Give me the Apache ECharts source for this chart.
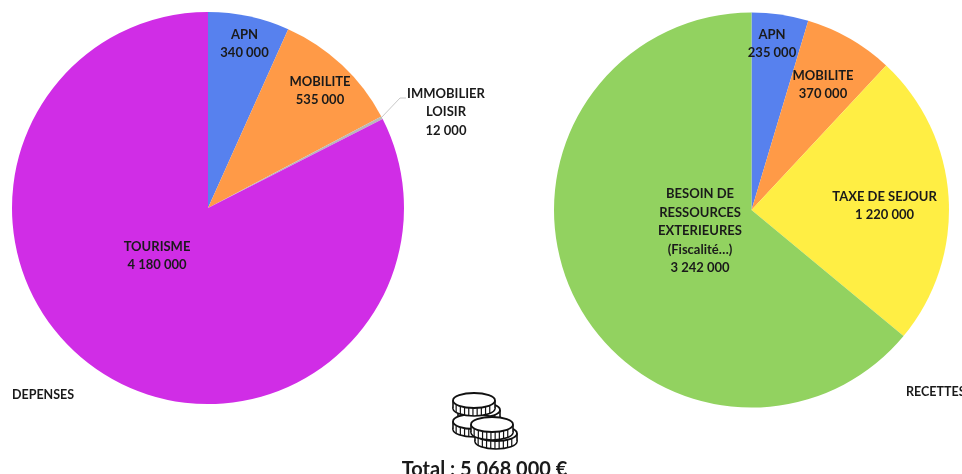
<!DOCTYPE html>
<html>
<head>
<meta charset="utf-8">
<style>html,body{margin:0;padding:0;background:#fff}#chart{width:962px;height:474px}</style>
<script src="https://cdn.jsdelivr.net/npm/echarts@6/dist/echarts.min.js"></script>
</head>
<body>
<div id="chart"></div>
<script>
var depensesNames = ['APN', 'MOBILITE', 'IMMOBILIER\nLOISIR', 'TOURISME']
var depensesValues = [340000, 535000, 12000, 4180000]
var depensesColors = ['#5781ee', '#ff9a47', '#b9b9b9', '#d02de6']

var recettesNames = ['APN', 'MOBILITE', 'TAXE DE SEJOUR', 'BESOIN DE\nRESSOURCES\nEXTERIEURES\n(Fiscalité…)']
var recettesValues = [235000, 370000, 1220000, 3242000]
var recettesColors = ['#5781ee', '#ff9a47', '#ffee44', '#92d260']

var font = 'Lato'
var ink = '#1a1a1a'

function fmt(v) {
  return String(v).replace(/\B(?=(\d{3})+$)/g, ' ')
}

function items(names, values, colors) {
  return names.map(function (n, i) {
    return { name: n, value: values[i], itemStyle: { color: colors[i] } }
  })
}

function pie(center, radius, data, places) {
  return {
    type: 'pie',
    center: center,
    radius: radius,
    startAngle: 90,
    silent: true,
    animation: false,
    minAngle: 0,
    data: data,
    label: {
      position: 'inside',
      formatter: function (p) { return p.name + '\n' + fmt(p.value) },
      fontFamily: font,
      fontSize: 13,
      fontWeight: 'bold',
      lineHeight: 18.5,
      color: ink,
      align: 'center'
    },
    labelLine: { show: false },
    labelLayout: function (p) {
      var c = places[p.dataIndex]
      return { x: c[0], y: c[1], align: 'center', verticalAlign: 'middle' }
    }
  }
}

// one coin: rim with ticks and a flat top
function coin(cx, cy) {
  var rx = 21, ry = 7.5, h = 8
  var line = { stroke: '#111', lineWidth: 1.6, fill: '#fff' }
  var kids = [
    { type: 'ellipse', shape: { cx: cx, cy: cy + h, rx: rx, ry: ry }, style: line },
    { type: 'rect', shape: { x: cx - rx, y: cy, width: rx * 2, height: h }, style: { fill: '#fff' } },
    { type: 'line', shape: { x1: cx - rx, y1: cy, x2: cx - rx, y2: cy + h }, style: line },
    { type: 'line', shape: { x1: cx + rx, y1: cy, x2: cx + rx, y2: cy + h }, style: line }
  ]
  ;[-0.85, -0.65, -0.45, -0.25, -0.05, 0.15, 0.35, 0.55, 0.75].forEach(function (t) {
    var dy = ry * Math.sqrt(1 - t * t)
    kids.push({
      type: 'line',
      shape: { x1: cx + t * rx, y1: cy + dy, x2: cx + t * rx, y2: cy + dy + h },
      style: { stroke: '#111', lineWidth: 1.2 }
    })
  })
  kids.push({ type: 'ellipse', shape: { cx: cx, cy: cy, rx: rx, ry: ry }, style: { stroke: '#111', lineWidth: 1.8, fill: '#fff' } })
  return { type: 'group', children: kids }
}

function text(x, y, s, size, weight, align) {
  return {
    type: 'text', x: x, y: y,
    style: { text: s, fontFamily: font, fontSize: size, fontWeight: weight, fill: ink, align: align, verticalAlign: 'middle' }
  }
}

var chart = echarts.init(document.getElementById('chart'), null, { renderer: 'canvas' })
chart.setOption({
  backgroundColor: '#fff',
  series: [
    pie([208, 208], 196, items(depensesNames, depensesValues, depensesColors),
      [[244.5, 44], [320, 91], [446, 112], [157, 256]]),
    pie([751.5, 210], 197.5, items(recettesNames, recettesValues, recettesColors),
      [[772, 44], [823, 85], [884.5, 206], [700, 231]])
  ],
  graphic: [
    { type: 'line', shape: { x1: 381, y1: 118, x2: 400, y2: 98 }, style: { stroke: '#c8c8c8', lineWidth: 1 } },
    { type: 'line', shape: { x1: 400, y1: 98, x2: 406, y2: 98 }, style: { stroke: '#c8c8c8', lineWidth: 1 } },
    text(12, 395, 'DEPENSES', 12.5, 'bold', 'left'),
    text(906, 392, 'RECETTES', 12.5, 'bold', 'left'),
    coin(479, 410),
    coin(474, 421.5),
    coin(474, 400.5),
    coin(496, 433.5),
    coin(492, 424.5),
    text(484.5, 470, 'Total : 5 068 000 €', 20, 'bold', 'center')
  ]
})
</script>
</body>
</html>
